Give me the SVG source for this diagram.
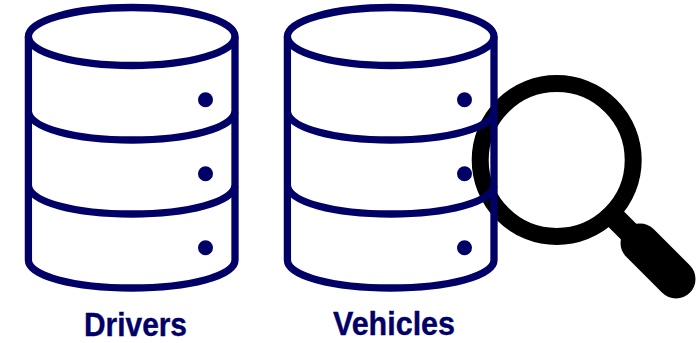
<svg xmlns="http://www.w3.org/2000/svg" width="697" height="343" viewBox="0 0 697 343">
<style>
.l{fill:none;stroke:#000066;stroke-width:7.300;stroke-linejoin:round}
.d{fill:#000066}
.t{font-family:"Liberation Sans",Arial,sans-serif;font-weight:700;font-size:34px;fill:#000066;stroke:#000066;stroke-width:.4}
</style>
<defs>
<g id="cyl">
<ellipse class="l" cx="131.700" cy="36.500" rx="103.300" ry="29"/>
<path class="l" d="M28.400 36.500V260C28.400 276 74 288 131.700 288S235 276 235 260V36.500"/>
<path class="l" d="M28.400 112C31 128 74 140 131.700 140S232 128 235 112"/>
<path class="l" d="M28.400 186C31 202 74 214 131.700 214S232 202 235 186"/>
<circle class="d" cx="205.500" cy="99.700" r="7.500"/>
<circle class="d" cx="205.500" cy="173.700" r="7.500"/>
<circle class="d" cx="205.500" cy="247.700" r="7.500"/>
</g>
</defs>
<rect width="697" height="343" fill="#fff"/>
<g id="magnifier">
<circle cx="556.700" cy="160" r="76.500" fill="none" stroke="#000" stroke-width="17"/>
<path d="M612 215L640 243" stroke="#000" stroke-width="22" fill="none"/>
<path d="M640 243L676 279" stroke="#000" stroke-width="39" stroke-linecap="round" fill="none"/>
</g>
<g id="drivers">
<use href="#cyl"/>
<text class="t" x="84" y="335.500" textLength="103" lengthAdjust="spacingAndGlyphs">Drivers</text>
</g>
<g id="vehicles">
<use href="#cyl" x="259"/>
<text class="t" x="333" y="335" textLength="122" lengthAdjust="spacingAndGlyphs">Vehicles</text>
</g>
<g id="connectors"/>
</svg>
